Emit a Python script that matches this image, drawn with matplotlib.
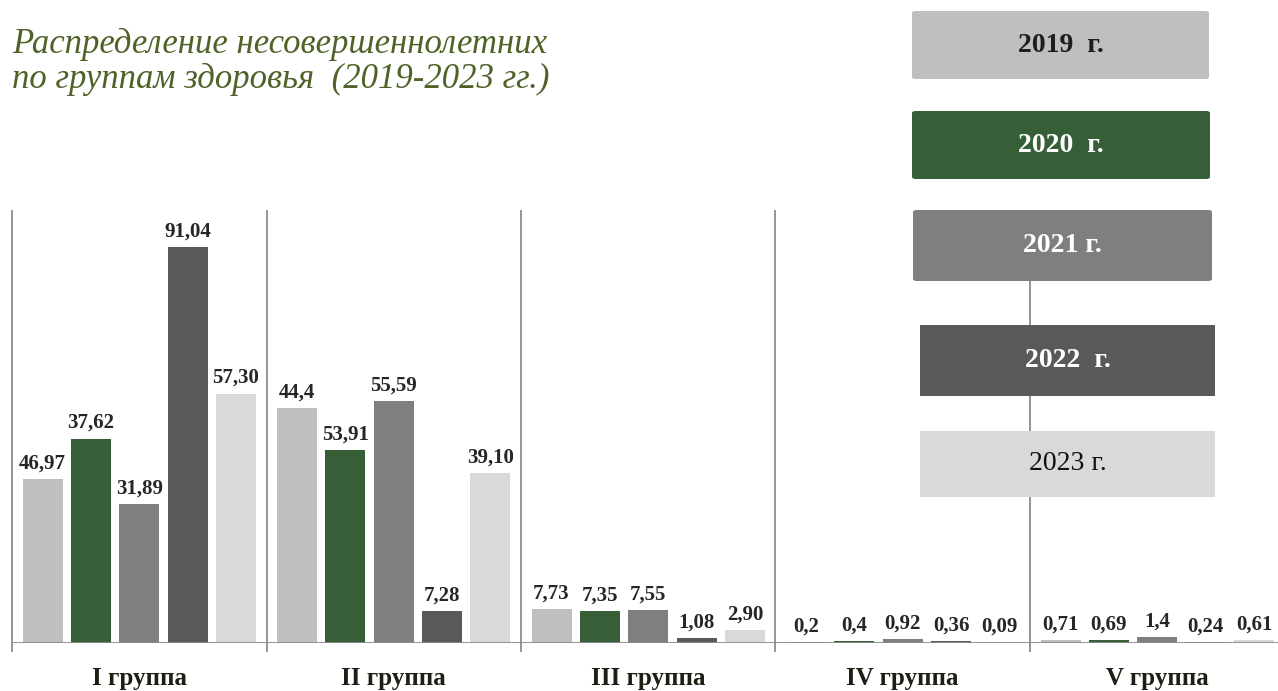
import numpy as np
import matplotlib
matplotlib.use("Agg")
import matplotlib.pyplot as plt
from matplotlib.patches import FancyBboxPatch

groups = ["I группа", "II группа", "III группа", "IV группа", "V группа"]
legend_labels = ["2019  г.", "2020  г.", "2021 г.", "2022  г.", "2023 г."]
colors = ["#bfbfbf", "#375f37", "#7f7f7f", "#595959", "#d9d9d9"]
legend_text_colors = ["#1e1e1e", "white", "white", "white", "#111111"]
legend_weights = ["bold", "bold", "bold", "bold", "normal"]
title_lines = ["Распределение несовершеннолетних",
               "по группам здоровья  (2019-2023 гг.)"]

# bar heights as drawn in the picture
h2019 = [37.62, 53.91, 7.73, 0.20, 0.71]
h2020 = [46.97, 44.40, 7.35, 0.40, 0.69]
h2021 = [31.89, 55.59, 7.55, 0.92, 1.40]
h2022 = [91.04, 7.28, 1.08, 0.36, 0.24]
h2023 = [57.30, 39.10, 2.90, 0.09, 0.61]

# value labels as printed above the bars
lab2019 = ["46,97", "44,4", "7,73", "0,2", "0,71"]
lab2020 = ["37,62", "53,91", "7,35", "0,4", "0,69"]
lab2021 = ["31,89", "55,59", "7,55", "0,92", "1,4"]
lab2022 = ["91,04", "7,28", "1,08", "0,36", "0,24"]
lab2023 = ["57,30", "39,10", "2,90", "0,09", "0,61"]

heights = [h2019, h2020, h2021, h2022, h2023]
labels = [lab2019, lab2020, lab2021, lab2022, lab2023]

W, H = 1278, 691
fig = plt.figure(figsize=(W / 100, H / 100), dpi=100)
ax = fig.add_axes([12 / W, (H - 643) / H, 1272.5 / W, 433 / H])

x = np.arange(len(groups))
pitch = 0.19
width = 0.157
for i in range(5):
    xs = x + (i - 2) * pitch
    ax.bar(xs, heights[i], width=width, color=colors[i], zorder=2)
    for xx, hh, ll in zip(xs, heights[i], labels[i]):
        ax.annotate(ll, (xx, hh), xytext=(0, 4), textcoords="offset points",
                    ha="center", va="bottom", fontsize=15, fontweight="bold",
                    family="Liberation Serif", color="#262626")

ytop = 99.5
ax.set_xlim(-0.5, 4.5)
ax.set_ylim(0, ytop)
line_col = "#8c8c8c"
ax.vlines(np.arange(-0.5, 5.0, 1.0), -2.1, ytop, color=line_col, lw=1.3,
          clip_on=False, zorder=1)
ax.axhline(0, color=line_col, lw=1.3, zorder=3)
for s in ax.spines.values():
    s.set_visible(False)
ax.set_yticks([])
ax.set_xticks(x)
ax.set_xticklabels(groups, fontsize=18, fontweight="bold",
                   family="Liberation Serif", color="#1e1e14")
ax.tick_params(axis="x", length=0, pad=17.5)

# title, two lines
for line, yb in zip(title_lines, [53, 88]):
    fig.text(12 / W, 1 - yb / H, line, ha="left", va="baseline",
             fontsize=25, style="italic", family="Liberation Serif",
             color="#4f6228")

# legend boxes on the right
boxes = [(912, 11, 1209, 79), (912, 111, 1210, 179), (913, 210, 1212, 281),
         (920, 325, 1215, 396), (920, 431, 1215, 497)]
for (x0, y0, x1, y1), lab, c, tc, wt in zip(boxes, legend_labels, colors,
                                             legend_text_colors, legend_weights):
    rounded = 0.003 if y0 < 300 else 0.0
    p = FancyBboxPatch((x0 / W, 1 - y1 / H), (x1 - x0) / W, (y1 - y0) / H,
                       boxstyle=f"round,pad=0,rounding_size={rounded}",
                       transform=fig.transFigure, facecolor=c,
                       edgecolor="none", zorder=5)
    fig.add_artist(p)
    fig.text((x0 + x1) / 2 / W, 1 - (y0 + y1) / 2 / H, lab, ha="center",
             va="center", fontsize=20, fontweight=wt,
             family="Liberation Serif", color=tc, zorder=6)

fig.savefig("out.png", dpi=100)
